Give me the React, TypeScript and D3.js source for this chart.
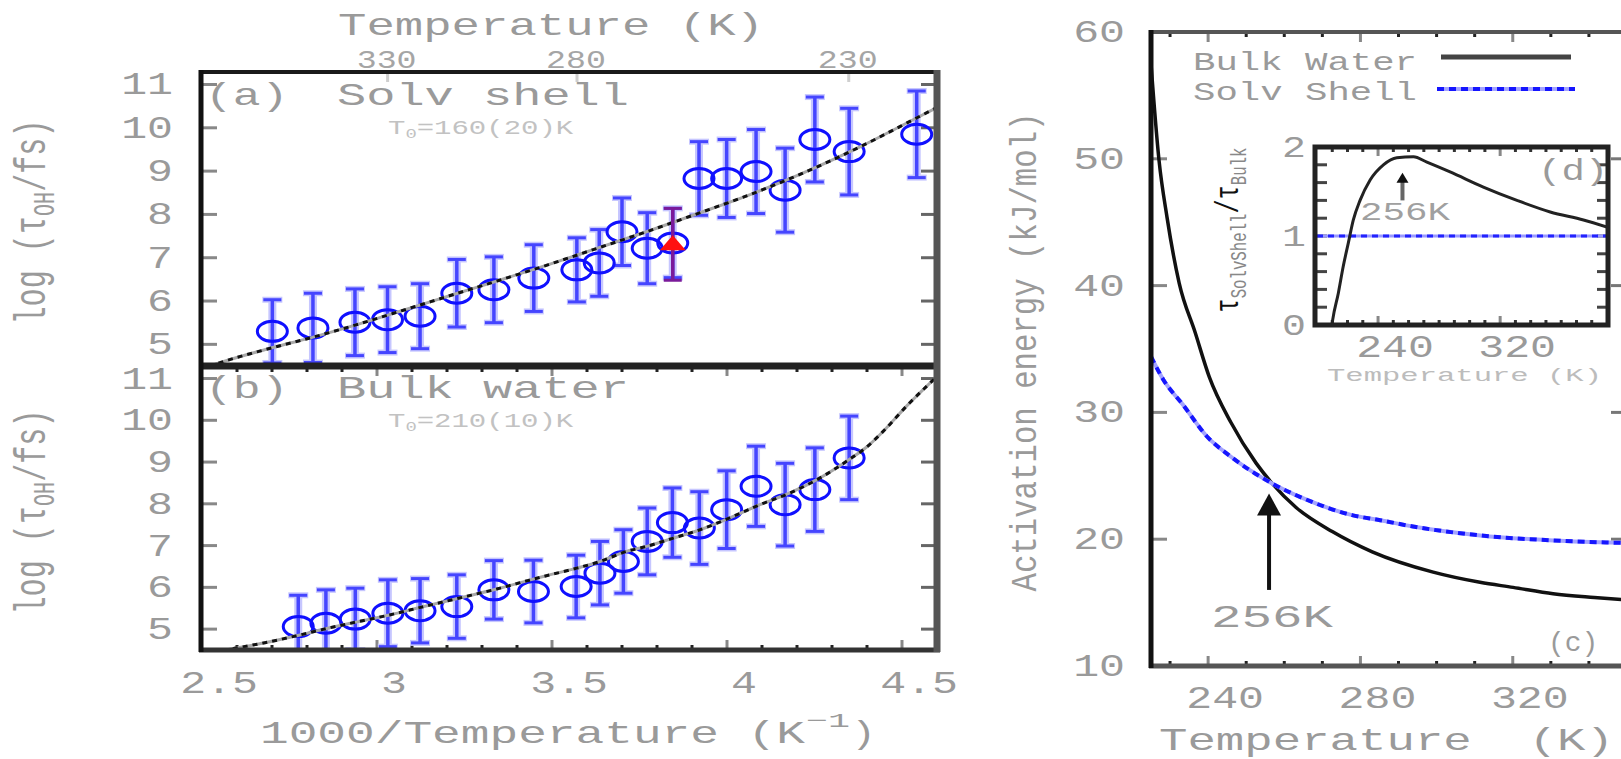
import React from "react";
import * as d3 from "d3";

// ---------------- data ----------------
// panel (a): solvation shell, x = 1000/T (K^-1), y = log(tau_OH/fs)
const solvInvT = [2.701, 2.817, 2.937, 3.03, 3.123, 3.228, 3.334, 3.448, 3.571, 3.635, 3.70, 3.772, 3.845, 3.92, 3.999, 4.083, 4.166, 4.251, 4.349, 4.542];
const solvLogTau = [5.30, 5.38, 5.51, 5.57, 5.65, 6.18, 6.26, 6.53, 6.72, 6.88, 7.60, 7.22, 7.34, 8.83, 8.83, 8.99, 8.56, 9.73, 9.45, 9.85];
const solvErr = [0.73, 0.80, 0.77, 0.76, 0.75, 0.78, 0.76, 0.77, 0.74, 0.77, 0.78, 0.82, 0.80, 0.85, 0.90, 0.97, 0.97, 0.98, 1.00, 1.00];
const solvRefInvT = [3.845];
const solvRefLogTau = [7.31];
const solvRefErr = [0.83];
const solvFitInvT = [2.52, 2.534, 2.70, 2.81, 2.94, 3.08, 3.23, 3.35, 3.49, 3.63, 3.77, 3.92, 4.07, 4.21, 4.38, 4.54, 4.6];
const solvFitLogTau = [4.49, 4.53, 4.92, 5.15, 5.45, 5.80, 6.18, 6.48, 6.84, 7.22, 7.60, 8.03, 8.47, 8.93, 9.56, 10.22, 10.47];

// panel (b): bulk water
const bulkInvT = [2.775, 2.854, 2.938, 3.031, 3.123, 3.228, 3.334, 3.447, 3.569, 3.637, 3.704, 3.772, 3.844, 3.921, 3.999, 4.083, 4.166, 4.251, 4.349];
const bulkLogTau = [5.06, 5.14, 5.24, 5.38, 5.44, 5.54, 5.94, 5.90, 6.02, 6.34, 6.62, 7.10, 7.55, 7.42, 7.86, 8.42, 7.98, 8.34, 9.10];
const bulkErr = [0.75, 0.80, 0.74, 0.80, 0.77, 0.76, 0.70, 0.75, 0.75, 0.76, 0.76, 0.80, 0.83, 0.87, 0.93, 0.96, 0.99, 1.00, 1.00];
const bulkFitInvT = [2.56, 2.593, 2.671, 2.78, 2.859, 2.947, 3.036, 3.134, 3.233, 3.342, 3.43, 3.475, 3.571, 3.637, 3.713, 3.77, 3.847, 3.923, 4.018, 4.094, 4.18, 4.266, 4.349, 4.399, 4.456, 4.513, 4.571, 4.6];
const bulkFitLogTau = [4.49, 4.54, 4.66, 4.86, 5.02, 5.18, 5.34, 5.54, 5.74, 5.96, 6.16, 6.26, 6.46, 6.62, 6.86, 6.98, 7.18, 7.38, 7.70, 7.98, 8.26, 8.62, 9.06, 9.36, 9.82, 10.34, 10.82, 11.05];

// panel (c): activation energy (kJ/mol) vs temperature (K)
const eaBulkT = [225, 227.1, 229.2, 232.4, 236.6, 240.3, 246, 252.6, 256.8, 263.1, 272.6, 283.1, 299.1, 311.4, 320.1, 330.6, 341.4, 350];
const eaBulk = [57.5, 49.9, 45.4, 40.2, 36.3, 32.8, 29.2, 26.0, 24.4, 22.5, 20.6, 19.0, 17.4, 16.6, 16.2, 15.7, 15.4, 15.2];
const eaSolvT = [225, 228.2, 233.4, 239.7, 246, 256.8, 265.2, 277.8, 285.2, 293.8, 311.4, 330.6, 350];
const eaSolv = [34.4, 32.6, 30.6, 28.1, 26.5, 24.4, 23.2, 21.9, 21.5, 21.0, 20.3, 19.9, 19.7];

// panel (d): ratio tau_SolvShell / tau_Bulk
const ratioT = [209.8, 210.3, 214, 217.2, 220.5, 223.8, 228.2, 234.8, 243.5, 252.3, 263.2, 272, 287.2, 309, 331, 352.8, 374.6, 390];
const ratio = [0.0, 0.06, 0.36, 0.66, 0.92, 1.18, 1.40, 1.63, 1.80, 1.88, 1.89, 1.83, 1.72, 1.55, 1.40, 1.27, 1.18, 1.10];
const ratioRefT = [200, 390];
const ratioRef = [1, 1];

// ticks / labels
const abXTicks = [2.5, 3, 3.5, 4, 4.5];
const abXLabels = ["2.5", "3", "3.5", "4", "4.5"];
const abYTicks = [5, 6, 7, 8, 9, 10, 11];
const topTempTicks = [330, 280, 230];
const cYTicks = [10, 20, 30, 40, 50, 60];
const cXTicks = [240, 280, 320];
const dYTicks = [0, 1, 2];
const dXTicks = [240, 320];
const crossT = 256;

const FONT = "'Liberation Mono', 'Courier New', monospace";
const GRAY = "#9a9a9a";

function T(props: any) {
  const { x, y, size = 32, sx = 1.35, fill = GRAY, anchor = "start", len, rot = false, children } = props;
  const tr = `translate(${x},${y}) scale(${sx},1)` + (rot ? " rotate(-90)" : "");
  const tl = len === undefined ? undefined : rot ? len : len / sx;
  return (
    <text
      transform={tr}
      fontFamily={FONT}
      fontSize={size}
      fill={fill}
      textAnchor={anchor}
      textLength={tl}
      lengthAdjust={tl ? "spacingAndGlyphs" : undefined}
      style={{ whiteSpace: "pre" }}
    >
      {children}
    </text>
  );
}

function ErrPts(props: any) {
  const { xs, ys, es, sx, sy } = props;
  return (
    <g>
      {xs.map((xv: number, i: number) => {
        const cx = sx(xv);
        const t = sy(ys[i] + es[i]);
        const b = sy(ys[i] - es[i]);
        return (
          <g key={i}>
            <line x1={cx} x2={cx} y1={t} y2={b} stroke="#c6c6ff" strokeWidth={8} />
            <line x1={cx - 10} x2={cx + 10} y1={t} y2={t} stroke="#c6c6ff" strokeWidth={6} />
            <line x1={cx - 10} x2={cx + 10} y1={b} y2={b} stroke="#c6c6ff" strokeWidth={6} />
            <line x1={cx} x2={cx} y1={t} y2={b} stroke="#4545ff" strokeWidth={3.5} />
            <line x1={cx - 9} x2={cx + 9} y1={t} y2={t} stroke="#4545ff" strokeWidth={3} />
            <line x1={cx - 9} x2={cx + 9} y1={b} y2={b} stroke="#4545ff" strokeWidth={3} />
          </g>
        );
      })}
      {xs.map((xv: number, i: number) => (
        <ellipse key={"c" + i} cx={sx(xv)} cy={sy(ys[i])} rx={15} ry={10} fill="none" stroke="#1010ff" strokeWidth={3} />
      ))}
    </g>
  );
}

function path(xs: number[], ys: number[], sx: any, sy: any) {
  return (
    d3
      .line<number>()
      .x((i) => sx(xs[i]))
      .y((i) => sy(ys[i]))
      .curve(d3.curveMonotoneX)(d3.range(xs.length)) || ""
  );
}

export default function App() {
  const xAB = d3.scaleLinear().domain([2.5, 4.6]).range([202, 937]);
  const yA = d3.scaleLinear().domain([4.5, 11.3]).range([366, 71.5]);
  const yB = d3.scaleLinear().domain([4.5, 11.3]).range([650, 366]);
  const xC = d3.scaleLinear().domain([225, 350]).range([1151, 1627]);
  const yC = d3.scaleLinear().domain([10, 60]).range([666, 32]);
  const xD = d3.scaleLinear().domain([200, 390]).range([1317, 1607]);
  const yD = d3.scaleLinear().domain([0, 2]).range([325, 147]);

  const abMinor = d3.range(26, 46).map((i) => i / 10);
  const cMinor = d3.range(230, 350, 10);
  const dMinorX = d3.range(210, 390, 10);
  const dMinorY = d3.range(0, 11).map((i) => i * 0.2);

  const fitLine = (d: string) => (
    <g>
      <path d={d} fill="none" stroke="#a8a8a8" strokeWidth={3} />
      <path d={d} fill="none" stroke="#111" strokeWidth={3} strokeDasharray="5 5" />
    </g>
  );

  const redX = xAB(solvRefInvT[0]);
  const redY = yA(solvRefLogTau[0]);
  const redT = yA(solvRefLogTau[0] + solvRefErr[0]);
  const redB = yA(solvRefLogTau[0] - solvRefErr[0]);

  const arrowX = xC(crossT);
  const arrowTip = yC(23.6);
  const arrowTail = yC(16);
  const dArrowX = xD(crossT);
  const dTip = yD(1.71);
  const dTail = yD(1.4);

  return (
    <svg width={1621} height={759} style={{ position: "absolute", left: 0, top: 0, background: "#fff", display: "block" }}>
      <defs>
        <clipPath id="clipA"><rect x={201} y={72} width={736} height={294} /></clipPath>
        <clipPath id="clipB"><rect x={201} y={366} width={736} height={284} /></clipPath>
        <clipPath id="clipC"><rect x={1151} y={32} width={476} height={634} /></clipPath>
        <clipPath id="clipD"><rect x={1317} y={147} width={290} height={178} /></clipPath>
      </defs>

      {/* ============ LEFT PANELS (a) / (b) ============ */}
      <T x={338} y={35} size={32} sx={1.47} len={426}>Temperature (K)</T>
      {topTempTicks.map((t) => (
        <g key={t}>
          <T x={xAB(1000 / t) - 1} y={68} size={25} sx={1.33} anchor="middle" fill="#a5a5a5">{String(t)}</T>
          <line x1={xAB(1000 / t)} x2={xAB(1000 / t)} y1={72} y2={82} stroke="#cfcfcf" strokeWidth={3} />
        </g>
      ))}

      {abYTicks.map((v) => (
        <g key={"ya" + v}>
          <T x={173} y={yA(v) + 10} anchor="end">{String(v)}</T>
          <line x1={203} x2={217} y1={yA(v)} y2={yA(v)} stroke="#888" strokeWidth={3} />
          <line x1={921} x2={934} y1={yA(v)} y2={yA(v)} stroke="#666" strokeWidth={3} />
          <T x={173} y={yB(v) + 10} anchor="end">{String(v)}</T>
          <line x1={203} x2={217} y1={yB(v)} y2={yB(v)} stroke="#888" strokeWidth={3} />
          <line x1={921} x2={934} y1={yB(v)} y2={yB(v)} stroke="#666" strokeWidth={3} />
        </g>
      ))}

      {abMinor.map((v, i) => {
        const major = Math.abs(v * 2 - Math.round(v * 2)) < 1e-6;
        const x = xAB(v);
        return (
          <g key={"xm" + i}>
            <line x1={x} x2={x} y1={366} y2={major ? 376 : 372} stroke={major ? "#888" : "#222"} strokeWidth={3} />
            <line x1={x} x2={x} y1={650} y2={major ? 640 : 645} stroke={major ? "#888" : "#222"} strokeWidth={3} />
          </g>
        );
      })}
      {abXTicks.map((v, i) => (
        <T key={"xl" + v} x={xAB(v) + 17} y={693} anchor="middle">{abXLabels[i]}</T>
      ))}

      <T x={45} y={222} size={30} sx={1.45} anchor="middle" rot len={205}>
        log (τ<tspan fontSize={20} dy={6}>OH</tspan><tspan dy={-6}>/fs)</tspan>
      </T>
      <T x={45} y={512} size={30} sx={1.45} anchor="middle" rot len={205}>
        log (τ<tspan fontSize={20} dy={6}>OH</tspan><tspan dy={-6}>/fs)</tspan>
      </T>

      <T x={260} y={743} size={32} sx={1.47} len={545}>1000/Temperature (K</T>
      <T x={806} y={727} size={20} sx={1.45} len={44}>−1</T>
      <T x={851} y={743} size={32} sx={1.3}>)</T>

      <g clipPath="url(#clipA)">
        <ErrPts xs={solvInvT} ys={solvLogTau} es={solvErr} sx={xAB} sy={yA} />
        {fitLine(path(solvFitInvT, solvFitLogTau, xAB, yA))}
        <line x1={redX} x2={redX} y1={redT} y2={redB} stroke="#7a1a9a" strokeWidth={3.5} />
        <line x1={redX - 9} x2={redX + 9} y1={redT} y2={redT} stroke="#7a1a9a" strokeWidth={3} />
        <line x1={redX - 9} x2={redX + 9} y1={redB} y2={redB} stroke="#7a1a9a" strokeWidth={3} />
        <polygon points={`${redX - 13},${redY + 6} ${redX + 13},${redY + 6} ${redX},${redY - 9}`} fill="#ff1010" />
      </g>
      <g clipPath="url(#clipB)">
        <ErrPts xs={bulkInvT} ys={bulkLogTau} es={bulkErr} sx={xAB} sy={yB} />
        {fitLine(path(bulkFitInvT, bulkFitLogTau, xAB, yB))}
      </g>

      <T x={205} y={105} size={32} sx={1.45}>(a)</T>
      <T x={337} y={105} size={32} sx={1.45} len={292}>Solv shell</T>
      <T x={388} y={134} size={20} sx={1.45} fill="#c2c2c2">T<tspan fontSize={13} dy={4}>0</tspan><tspan dy={-4}>=160(20)K</tspan></T>
      <T x={205} y={398} size={32} sx={1.45}>(b)</T>
      <T x={337} y={398} size={32} sx={1.45} len={292}>Bulk water</T>
      <T x={388} y={427} size={20} sx={1.45} fill="#c2c2c2">T<tspan fontSize={13} dy={4}>0</tspan><tspan dy={-4}>=210(10)K</tspan></T>

      <line x1={199} x2={940} y1={72} y2={72} stroke="#1a1a1a" strokeWidth={4} />
      <line x1={199} x2={940} y1={366} y2={366} stroke="#222" strokeWidth={7} />
      <line x1={199} x2={940} y1={650} y2={650} stroke="#333" strokeWidth={5} />
      <line x1={937} x2={937} y1={70} y2={652} stroke="#555" strokeWidth={7} />
      <line x1={201} x2={201} y1={70} y2={652} stroke="#111" strokeWidth={5} />

      {/* ============ RIGHT PANEL (c) ============ */}
      {cYTicks.map((v) => (
        <g key={"cy" + v}>
          <T x={1125} y={yC(v) + 10} anchor="end">{String(v)}</T>
          <line x1={1153} x2={1167} y1={yC(v)} y2={yC(v)} stroke="#888" strokeWidth={3} />
          <line x1={1611} x2={1625} y1={yC(v)} y2={yC(v)} stroke="#777" strokeWidth={3} />
        </g>
      ))}
      {cMinor.map((v) => {
        const major = cXTicks.indexOf(v) >= 0;
        const x = xC(v);
        return (
          <g key={"cx" + v}>
            <line x1={x} x2={x} y1={666} y2={major ? 656 : 661} stroke={major ? "#888" : "#222"} strokeWidth={3} />
            <line x1={x} x2={x} y1={32} y2={major ? 42 : 37} stroke={major ? "#888" : "#222"} strokeWidth={3} />
          </g>
        );
      })}
      {cXTicks.map((v) => (
        <T key={"cxl" + v} x={xC(v) + 17} y={708} anchor="middle">{String(v)}</T>
      ))}
      <T x={1036} y={352} size={30} sx={1.25} anchor="middle" rot len={479}>Activation energy (kJ/mol)</T>
      <T x={1159} y={750} size={31} sx={1.5} len={455}>Temperature  (K)</T>

      <g clipPath="url(#clipC)">
        <path d={path(eaBulkT, eaBulk, xC, yC)} fill="none" stroke="#111" strokeWidth={3.5} />
        <path d={path(eaSolvT, eaSolv, xC, yC)} fill="none" stroke="#a4a4ff" strokeWidth={4} />
        <path d={path(eaSolvT, eaSolv, xC, yC)} fill="none" stroke="#1515ff" strokeWidth={4} strokeDasharray="7 5" />
      </g>

      <T x={1193} y={70} size={26} sx={1.33} len={224}>Bulk Water</T>
      <T x={1193} y={100} size={26} sx={1.33} len={224}>Solv Shell</T>
      <line x1={1441} x2={1571} y1={57} y2={57} stroke="#444" strokeWidth={5} />
      <line x1={1437} x2={1575} y1={89} y2={89} stroke="#a4a4ff" strokeWidth={4} />
      <line x1={1437} x2={1575} y1={89} y2={89} stroke="#1515ff" strokeWidth={4} strokeDasharray="7 5" />

      <line x1={arrowX} x2={arrowX} y1={arrowTail} y2={arrowTip + 18} stroke="#111" strokeWidth={4} />
      <polygon points={`${arrowX - 12},${arrowTip + 22} ${arrowX + 12},${arrowTip + 22} ${arrowX},${arrowTip}`} fill="#111" />
      <T x={1211} y={627} size={32} sx={1.5} len={122}>256K</T>
      <text x={1548} y={651} fontFamily={FONT} fontSize={28} fill={GRAY}>(c)</text>

      <line x1={1149} x2={1630} y1={32} y2={32} stroke="#555" strokeWidth={4} />
      <line x1={1149} x2={1630} y1={666} y2={666} stroke="#555" strokeWidth={5} />
      <line x1={1627} x2={1627} y1={30} y2={668} stroke="#555" strokeWidth={5} />
      <line x1={1151} x2={1151} y1={30} y2={668} stroke="#111" strokeWidth={5} />

      {/* ============ INSET (d) ============ */}
      <rect x={1315} y={147} width={293} height={178} fill="#fff" />
      {dMinorY.map((v, i) => (
        <g key={"dy" + i}>
          <line x1={1317} x2={1327} y1={yD(v)} y2={yD(v)} stroke="#444" strokeWidth={3} />
          <line x1={1597} x2={1606} y1={yD(v)} y2={yD(v)} stroke="#444" strokeWidth={3} />
        </g>
      ))}
      {dMinorX.map((v) => {
        const major = dXTicks.indexOf(v) >= 0;
        const x = xD(v);
        return (
          <g key={"dx" + v}>
            <line x1={x} x2={x} y1={325} y2={major ? 316 : 320} stroke={major ? "#888" : "#333"} strokeWidth={3} />
            <line x1={x} x2={x} y1={147} y2={major ? 156 : 152} stroke={major ? "#888" : "#333"} strokeWidth={3} />
          </g>
        );
      })}
      {dYTicks.map((v) => (
        <T key={"dyl" + v} x={1306} y={yD(v) + 10} size={30} sx={1.33} anchor="end">{String(v)}</T>
      ))}
      {dXTicks.map((v) => (
        <T key={"dxl" + v} x={xD(v) + 17} y={357} anchor="middle">{String(v)}</T>
      ))}
      <T x={1327} y={381} size={18} sx={1.5} len={275} fill="#bcbcbc">Temperature (K)</T>
      <g clipPath="url(#clipD)">
        <path d={path(ratioRefT, ratioRef, xD, yD)} fill="none" stroke="#9a9aff" strokeWidth={3} />
        <path d={path(ratioRefT, ratioRef, xD, yD)} fill="none" stroke="#2222ff" strokeWidth={3} strokeDasharray="6 5" />
        <path d={path(ratioT, ratio, xD, yD)} fill="none" stroke="#222" strokeWidth={3} />
      </g>
      <line x1={dArrowX} x2={dArrowX} y1={dTail} y2={dTip + 8} stroke="#666" strokeWidth={4} />
      <polygon points={`${dArrowX - 6},${dTip + 10} ${dArrowX + 6},${dTip + 10} ${dArrowX},${dTip}`} fill="#111" />
      <T x={1360} y={220} size={25} sx={1.4} len={90} fill="#a0a0a0">256K</T>
      <T x={1538} y={180} size={30} sx={1.3}>(d)</T>
      <rect x={1315} y={147} width={293} height={178} fill="none" stroke="#222" strokeWidth={5} />
      <T x={1238} y={230} size={24} sx={1.4} anchor="middle" rot len={165} fill="#111">
        τ<tspan fontSize={16} dy={6} fill="#888">SolvShell</tspan><tspan dy={-6}>/τ</tspan><tspan fontSize={16} dy={6} fill="#888">Bulk</tspan>
      </T>
    </svg>
  );
}
